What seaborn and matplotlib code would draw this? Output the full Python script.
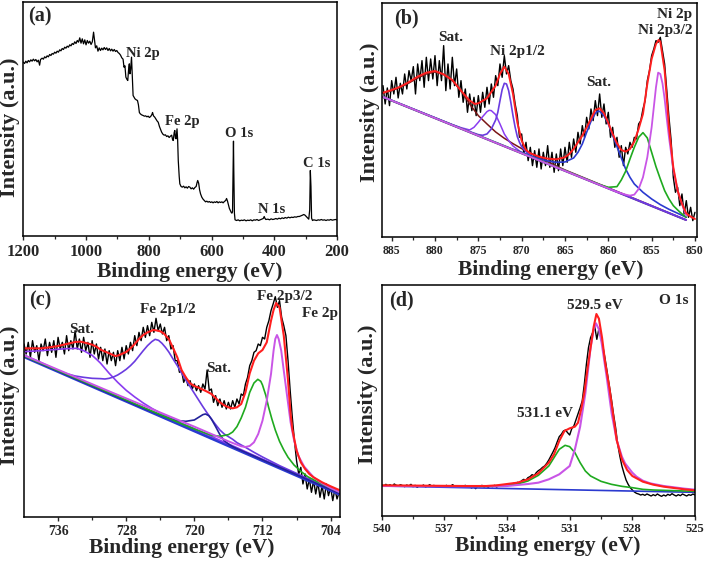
import numpy as np
import matplotlib
matplotlib.use("Agg")
import matplotlib.pyplot as plt
from matplotlib.ticker import FixedLocator
import seaborn as sns

sns.set_style("ticks")
plt.rcParams["font.family"] = ["Liberation Serif", "DejaVu Serif"]
plt.rcParams["font.weight"] = "bold"
plt.rcParams["axes.labelweight"] = "bold"

# ------------------------------------------------------------------ data
# (a) survey spectrum (binding energy eV, intensity a.u.)
a_energy = [1200, 1196, 1192, 1188, 1184, 1180, 1176, 1172, 1168, 1164, 1160, 1156, 1152, 1148, 1145,
            1140, 1136, 1132, 1128, 1124, 1120, 1116, 1112, 1108, 1104, 1100, 1096, 1092, 1088, 1084,
            1080, 1076, 1072, 1068, 1064, 1060, 1056, 1052, 1048, 1044, 1040, 1036, 1032, 1028, 1024,
            1020, 1016, 1012, 1008, 1004, 1000, 996, 992, 988, 984, 980, 976, 973, 970, 966, 962, 958,
            954, 950, 946, 942, 938, 934, 930, 926, 922, 918, 914, 910, 906, 902, 898, 894, 890, 886,
            882, 879, 876, 873, 870, 867, 864, 862, 860, 858, 855, 852, 850, 847, 844, 840, 836, 833,
            830, 827, 823, 818, 814, 810, 806, 802, 798, 794, 790, 788, 785, 781, 777, 773, 770, 766,
            762, 759, 755, 751, 747, 743, 739, 735, 731, 727, 724, 722, 719, 717, 715, 713, 710, 708,
            706, 703, 701, 697, 693, 689, 685, 681, 677, 673, 669, 665, 661, 657, 653, 649, 646, 644,
            641, 638, 635, 631, 627, 623, 619, 615, 611, 607, 603, 599, 595, 591, 587, 583, 579, 575,
            571, 567, 563, 559, 555, 552, 549, 546, 543, 540, 537, 535, 533, 531, 530, 529, 527, 525,
            520, 515, 510, 505, 500, 495, 490, 485, 480, 475, 470, 465, 460, 455, 450, 445, 440, 435,
            432, 430, 427, 420, 415, 410, 405, 400, 395, 390, 385, 380, 375, 370, 365, 360, 355, 350,
            345, 340, 335, 330, 325, 320, 315, 310, 306, 302, 298, 294, 290, 287, 285, 283, 281, 278,
            274, 270, 265, 260, 255, 250, 245, 240, 235, 230, 225, 220, 215, 210, 205, 200]
a_intensity = [523, 519, 526, 521, 528, 524, 530, 526, 532, 527, 531, 524, 529, 514, 531,
               535, 532, 539, 536, 542, 539, 546, 543, 549, 547, 553, 550, 556, 553, 560,
               557, 564, 561, 568, 565, 571, 568, 575, 572, 579, 576, 584, 579, 588, 583,
               596, 580, 593, 578, 590, 575, 588, 580, 586, 576, 584, 613, 590, 566, 572, 556, 566,
               558, 565, 560, 567, 561, 566, 558, 564, 557, 562, 556, 561, 555, 558, 552, 549, 544, 536,
               532, 508, 512, 478, 472, 468, 505, 518, 488, 500, 538, 470, 423, 418, 413, 410, 408, 395,
               372, 368, 365, 363, 361, 362, 359, 361, 357, 360, 366, 372, 362, 358, 352, 346, 343, 330,
               320, 313, 307, 304, 305, 300, 302, 297, 301, 304, 290, 288, 312, 318, 295, 293, 323, 290,
               228, 180, 158, 150, 148, 151, 146, 149, 145, 150, 148, 143, 146, 142, 147, 150, 162, 168,
               160, 140, 128, 118, 112, 108, 104, 106, 103, 105, 102, 104, 101, 104, 102, 105, 101, 104,
               102, 104, 101, 105, 108, 114, 106, 95, 84, 78, 72, 70, 75, 220, 286, 200, 70, 50,
               48, 50, 47, 49, 48, 50, 47, 49, 48, 50, 47, 50, 49, 51, 48, 50, 52, 54,
               60, 55, 51, 52, 50, 53, 51, 52, 54, 52, 55, 53, 56, 54, 57, 55, 58, 56,
               58, 57, 59, 58, 60, 60, 62, 64, 66, 64, 60, 56, 52, 80, 198, 150, 55, 48,
               50, 49, 48, 50, 49, 51, 49, 50, 48, 50, 49, 51, 49, 50, 51, 50]
a_labels = ["Ni 2p", "Fe 2p", "O 1s", "N 1s", "C 1s"]
a_label_x = [819, 694, 512, 407, 264]
a_label_y = [548, 346, 308, 80, 218]

# (b) Ni 2p, raw spectrum sampled every 0.25 eV from 886 to 850
b_raw = [455, 400, 448, 395, 470, 430, 480, 418, 462, 430, 490, 445,
         500, 470, 512, 430, 520, 470, 530, 450, 540, 470, 535, 475,
         545, 455, 530, 470, 575, 440, 520, 445, 540, 455, 505, 420,
         470, 405, 445, 375, 430, 380, 420, 365, 425, 375, 435, 390,
         450, 400, 460, 420, 485, 455, 520, 480, 545, 490, 515, 470,
         445, 400, 365, 300, 310, 250, 285, 230, 270, 215, 260, 210,
         265, 205, 255, 215, 275, 210, 255, 195, 250, 200, 265, 215,
         270, 225, 285, 240, 295, 255, 315, 280, 335, 300, 360, 325,
         385, 350, 410, 365, 430, 360, 400, 340, 375, 300, 330, 270,
         300, 240, 275, 215, 270, 250, 285, 270, 300, 295, 340, 350,
         385, 410, 470, 500, 545, 565, 590, 585, 600, 560, 520, 440,
         360, 290, 180, 135, 150, 95, 130, 70, 110, 60, 90, 50, 75]
b_fit_x = [886, 885, 884, 883, 882, 881, 880, 879, 878, 877, 876, 875.4, 875, 874, 873, 872.5, 872,
           871.5, 871, 870.5, 870, 869.5, 869, 868, 867, 866, 865, 864.5, 864, 863, 862, 861.5, 861,
           860.5, 860, 859.5, 859, 858.5, 858, 857.5, 857, 856.5, 856, 855.5, 855, 854.5, 854.2, 854,
           853.5, 853, 852.5, 852, 851.5, 851, 850.5, 850]
b_fit_y = [434, 442, 452, 466, 482, 494, 499, 489, 472, 440, 410, 400, 402, 417, 455, 490, 512,
           490, 430, 345, 290, 262, 252, 242, 236, 234, 240, 250, 265, 305, 355, 382, 387,
           372, 343, 310, 282, 262, 257, 265, 287, 325, 370, 460, 535, 580, 592, 587,
           500, 330, 210, 140, 100, 72, 62, 55]
b_base_x = [886, 851.1]
b_base_y = [420, 52]
b_sat1_x = [886, 885, 884, 883, 882, 881, 880, 879, 878, 877, 876, 875, 874, 873, 872, 871, 870,
            869, 868, 867, 866, 865, 851]
b_sat1_y = [432, 440, 450, 463, 478, 490, 496, 488, 470, 440, 400, 365, 340, 316, 297, 281, 266,
            253, 240, 227, 214, 202, 52]
b_p12s_x = [886, 878, 877, 876, 875.5, 875, 874.5, 874, 873.75, 873.5, 873, 872.5, 872, 871.5,
            871, 870, 869, 851]
b_p12s_y = [422, 338, 329, 322, 330, 345, 362, 377, 381, 380, 368, 340, 310, 290,
            274, 254, 242, 52]
b_p12_x = [886, 876, 875, 874.5, 874, 873.5, 873, 872.75, 872.5, 872.25, 872, 871.75, 871.5,
           871.25, 871, 870.75, 870.5, 870.25, 870, 869.5, 869, 868, 851]
b_p12_y = [421, 317, 308, 306, 310, 325, 352, 375, 410, 443, 462, 460, 440,
           405, 365, 330, 302, 285, 272, 257, 246, 232, 52]
b_sat2_x = [886, 871, 870, 869, 868, 867, 866, 865, 864, 863.5, 863, 862.5, 862, 861.5, 861.25,
            861, 860.5, 860, 859.5, 859, 858.5, 858, 857.5, 857, 856, 855, 854, 853, 852, 851]
b_sat2_y = [421, 264, 255, 245, 236, 229, 225, 226, 238, 255, 280, 315, 348, 372, 378,
            378, 365, 340, 306, 272, 238, 205, 180, 160, 135, 115, 98, 84, 72, 60]
b_p32s_x = [886, 861, 860, 859, 858.5, 858, 857.5, 857, 856.5, 856, 855.5, 855.2, 855, 854.5,
            854, 853.5, 853, 852.5, 852, 851.5, 851]
b_p32s_y = [421, 158, 150, 152, 172, 198, 235, 270, 300, 314, 298, 272, 255, 212,
            175, 140, 115, 95, 82, 70, 60]
b_p32_x = [886, 859, 858, 857.5, 857, 856.5, 856, 855.5, 855, 854.75, 854.5, 854.25, 854,
           853.75, 853.5, 853.25, 853, 852.5, 852, 851.5, 851]
b_p32_y = [421, 136, 128, 125, 128, 145, 180, 240, 330, 390, 450, 494, 490,
           462, 415, 355, 300, 205, 140, 100, 65]
b_labels = ["(b)", "Sat.", "Ni 2p1/2", "Sat.", "Ni 2p", "Ni 2p3/2"]
b_label_x = [883.3, 878.2, 870.55, 861.1, 852.4, 853.45]
b_label_y = [657, 600, 557, 464, 667, 620]

# (c) Fe 2p, raw spectrum sampled every 0.25 eV from 740 to 703
c_raw = [520, 490, 525, 480, 530, 495, 515, 470, 520, 500, 535, 485,
         525, 495, 530, 480, 540, 505, 525, 490, 545, 500, 530, 505,
         560, 505, 535, 495, 540, 500, 525, 480, 530, 490, 520, 475,
         510, 470, 505, 460, 500, 470, 495, 455, 500, 470, 510, 475,
         515, 490, 525, 500, 545, 515, 555, 530, 570, 540, 575, 545,
         585, 555, 597, 560, 580, 550, 570, 530, 545, 505, 515, 470,
         470, 435, 440, 405, 420, 395, 410, 385, 400, 380, 395, 375,
         400, 385, 442, 380, 385, 345, 365, 335, 355, 330, 350, 325,
         345, 325, 350, 330, 355, 340, 370, 365, 400, 420, 455, 470,
         495, 500, 520, 515, 540, 535, 570, 590, 620, 640, 662, 630,
         650, 600, 575, 545, 470, 380, 300, 230, 170, 130, 150, 100,
         130, 85, 115, 75, 110, 70, 105, 60, 95, 55, 100, 65, 90, 50, 85, 55, 75]
c_fit_x = [740, 739, 738, 737, 736, 735, 734, 733.4, 733, 732, 731.5, 731, 730, 729.3, 729, 728,
           727.5, 727, 726.5, 726, 725.5, 725, 724.8, 724.5, 724, 723.6, 723, 722.5, 722, 721.5,
           721, 720.5, 720, 719.5, 719, 718.5, 718, 717.5, 717, 716.5, 716, 715.5, 715, 714.5,
           714, 713.5, 713, 712.5, 712, 711.5, 711, 710.7, 710.4, 710, 709.5, 709, 708.7, 708.5,
           708, 707.5, 707, 706.5, 706, 705, 704, 703]
c_fit_y = [507, 507, 507, 510, 514, 520, 526, 527, 525, 518, 512, 503, 492, 484, 485, 496,
           507, 520, 535, 547, 555, 560, 562, 561, 558, 552, 535, 508, 480, 442,
           420, 402, 394, 389, 383, 377, 370, 358, 345, 336, 330, 327, 330, 340,
           375, 432, 470, 492, 502, 525, 590, 622, 643, 630, 545, 410, 310, 265,
           200, 165, 145, 130, 120, 105, 93, 82]
c_base_x = [740, 703]
c_base_y = [482, 70]
c_sat1_x = [740, 738, 736.6, 735, 733.8, 733, 732, 731.4, 731, 730, 729, 728, 727, 726, 725, 724,
            723, 722, 721, 720, 719, 718, 717, 716, 715, 714, 710, 706, 703]
c_sat1_y = [497, 500, 503, 506, 507, 500, 486, 472, 462, 432, 405, 381, 361, 343, 327, 313,
            300, 288, 277, 266, 254, 243, 231, 220, 209, 197, 152, 107, 73]
c_p12_x = [740, 738.5, 737, 736, 735, 734, 733, 732, 731, 730.5, 730, 729.5, 729, 728.5, 728,
           727.5, 727, 726.5, 726, 725.5, 725, 724.6, 724.2, 723.8, 723.4, 723, 722.5, 722,
           721.5, 721, 720.5, 720, 719.5, 719, 718.5, 718, 717.5, 717, 716.5, 716, 715.5,
           715, 714, 713, 712, 710, 707, 703]
c_p12_y = [487, 470, 452, 440, 431, 424, 420, 417, 416, 415, 417, 421, 427, 435, 444,
           455, 468, 484, 500, 515, 527, 534, 531, 522, 510, 496, 475, 455,
           433, 412, 392, 372, 352, 332, 313, 295, 278, 262, 250, 242, 234,
           224, 210, 195, 181, 155, 120, 74]
c_sat2_x = [740, 730, 726, 725, 724, 723, 722, 721, 720, 719.5, 719, 718.7, 718.3, 718, 717.5,
            717, 716.5, 716, 715.5, 715, 714, 710, 703]
c_sat2_y = [483, 372, 328, 318, 307, 297, 290, 288, 292, 300, 308, 310, 305, 295, 272,
            248, 230, 220, 212, 206, 195, 150, 72]
c_p32s_x = [740, 730, 725, 722, 720, 718, 717, 716, 715.5, 715, 714.5, 714, 713.5, 713, 712.55,
            712.2, 712, 711.6, 711.3, 710.9, 710.5, 710, 709.5, 709, 708.3, 707.5, 706.7, 705.2,
            704, 703]
c_p32s_y = [484, 374, 319, 286, 265, 246, 243, 248, 256, 272, 298, 330, 375, 403, 414,
            408, 397, 365, 332, 295, 262, 228, 202, 180, 157, 138, 122, 102,
            88, 76]
c_p32_x = [740, 730, 725, 720, 718, 716, 715, 714.5, 714, 713.5, 713, 712.5, 712, 711.5, 711,
           710.7, 710.5, 710.3, 710.1, 709.8, 709.5, 709.1, 708.7, 708.3, 707.8, 707.1, 706,
           705, 704, 703]
c_p32_y = [486, 378, 325, 272, 250, 228, 218, 213, 211, 214, 225, 250, 290, 350, 430,
           500, 535, 547, 535, 500, 440, 362, 285, 232, 185, 152, 120,
           102, 88, 76]
c_labels = ["(c)", "Sat.", "Fe 2p1/2", "Sat.", "Fe 2p3/2", "Fe 2p"]
c_label_x = [738.1, 733.2, 723.1, 717.1, 709.4, 705.3]
c_label_y = [650, 562, 622, 447, 662, 610]

# (d) O 1s, raw spectrum sampled every 0.1 eV from 540 to 525
d_raw = [93, 90, 95, 91, 94, 89, 96, 92, 90, 94,
         91, 88, 93, 90, 95, 88, 92, 86, 91, 89,
         93, 87, 90, 94, 89, 92, 88, 91, 86, 90,
         88, 92, 87, 90, 94, 88, 91, 86, 90, 88,
         92, 87, 89, 84, 88, 82, 90, 88, 92, 87,
         90, 86, 91, 88, 92, 87, 90, 94, 89, 93,
         90, 96, 92, 98, 95, 101, 98, 106, 110, 107,
         115, 118, 124, 121, 130, 136, 140, 146, 150, 158,
         168, 180, 192, 205, 222, 238, 245, 255, 258, 250,
         243, 262, 270, 288, 305, 325, 345, 395, 455, 505,
         535, 550, 568, 530, 562, 535, 505, 470, 430, 390,
         350, 305, 265, 215, 180, 150, 128, 108, 95, 85,
         78, 72, 68, 66, 63, 65, 62, 66, 63, 60,
         64, 61, 66, 62, 59, 63, 60, 65, 62, 67,
         63, 60, 64, 61, 66, 63, 60, 64, 62, 66, 63]
d_fit_x = [540, 538, 536, 535, 534.5, 534, 533.5, 533, 532.5, 532, 531.75, 531.5, 531.25, 531,
           530.75, 530.6, 530.45, 530.3, 530.15, 530, 529.85, 529.72, 529.6, 529.45, 529.3,
           529.1, 528.9, 528.75, 528.5, 528.25, 528, 527.5, 527, 526.5, 526, 525.5, 525]
d_fit_y = [92, 91, 90, 90, 92, 96, 100, 110, 128, 160, 185, 225, 255, 263,
           268, 280, 320, 370, 440, 505, 568, 606, 592, 535, 460,
           385, 295, 228, 170, 138, 120, 103, 94, 88, 84, 80, 77]
d_base_x = [540, 525]
d_base_y = [90, 71]
d_low_x = [540, 537, 535, 534, 533.5, 533, 532.5, 532, 531.75, 531.5, 531.22, 531, 530.75,
           530.5, 530.25, 530, 529.5, 529, 528.5, 528, 527.5, 527, 526, 525]
d_low_y = [91, 90, 89, 93, 96, 105, 122, 150, 175, 200, 212, 208, 190,
           160, 135, 120, 104, 95, 89, 85, 80, 78, 76, 74]
d_main_x = [540, 536, 534, 533, 532.5, 532, 531.5, 531, 530.75, 530.5, 530.25, 530.1, 530,
            529.85, 529.74, 529.6, 529.47, 529.23, 528.99, 528.75, 528.5, 528.35, 528, 527.8,
            527.5, 527.15, 526.5, 526, 525.5, 525]
d_main_y = [90, 89, 90, 96, 100, 110, 125, 150, 200, 268, 368, 450, 505,
            560, 578, 560, 520, 418, 308, 228, 178, 158, 130, 118,
            106, 98, 90, 86, 82, 79]
d_labels = ["(d)", "529.5 eV", "O 1s", "531.1 eV"]
d_label_x = [539.04, 529.8, 526.04, 532.2]
d_label_y = [648, 633, 648, 308]

# ------------------------------------------------------------------ style
RED = "#ff1f1f"
MAG = "#c955e6"
GRN = "#1faa1f"
BLU = "#2b3ad0"
VIO = "#8a3cf0"
BVI = "#6a3be0"
BRN = "#7a1616"

fig = plt.figure(figsize=(7.09, 5.63), dpi=100)
ax_a = fig.add_axes([0.03286, 0.57993, 0.44245, 0.41563])
ax_b = fig.add_axes([0.53836, 0.57851, 0.44429, 0.41563])
ax_c = fig.add_axes([0.03385, 0.08117, 0.44570, 0.41350])
ax_d = fig.add_axes([0.53836, 0.08348, 0.44189, 0.41119])


def line(ax, x, y, color, lw):
    sns.lineplot(x=np.asarray(x, float), y=np.asarray(y, float), ax=ax, color=color,
                 linewidth=lw, estimator=None, sort=False, legend=False)


def style(ax, xlim, ylim, majors, minors, tick_fs, xlab_pos, ylab_pos):
    ax.set_xlim(*xlim)
    ax.set_ylim(*ylim)
    ax.xaxis.set_major_locator(FixedLocator(majors))
    ax.xaxis.set_minor_locator(FixedLocator(minors))
    ax.set_yticks([])
    ax.tick_params(axis="x", which="major", direction="out", length=3.2, width=1.0,
                   pad=2, labelsize=tick_fs, bottom=True, top=False)
    ax.tick_params(axis="x", which="minor", direction="out", length=2.0, width=0.9,
                   bottom=True, top=False)
    for lab in ax.get_xticklabels():
        lab.set_fontweight("bold")
    for sp in ax.spines.values():
        sp.set_linewidth(1.1)
        sp.set_color("black")
    ax.set_xlabel("Binding energy (eV)", fontsize=15.5, fontweight="bold")
    ax.set_ylabel("Intensity (a.u.)", fontsize=16, fontweight="bold")
    ax.xaxis.label.set_verticalalignment("baseline")
    ax.xaxis.set_label_coords(*xlab_pos)
    ax.yaxis.set_label_coords(*ylab_pos)


def annotate(ax, labels, xs, ys, fs=11):
    for t, x, y in zip(labels, xs, ys):
        size = 14.5 if t.startswith("(") else fs
        ax.text(x, y, t, ha="center", va="center", fontsize=size, fontweight="bold")


# (a)
line(ax_a, a_energy, a_intensity, "black", 0.9)
annotate(ax_a, a_labels, a_label_x, a_label_y, fs=10.5)
ax_a.text(1146, 661, "(a)", ha="center", va="center", fontsize=14.5, fontweight="bold")
style(ax_a, (1200, 200), (0, 702), [1200, 1000, 800, 600, 400, 200], [1100, 900, 700, 500, 300],
      12, (0.531, -0.171), (-0.012, 0.469))

# (b)
b_x = np.linspace(886, 850, len(b_raw))
line(ax_b, b_x, b_raw, "black", 1.0)
line(ax_b, b_base_x, b_base_y, "#4a2a86", 1.2)
line(ax_b, b_sat1_x, b_sat1_y, BRN, 1.1)
line(ax_b, b_p12s_x, b_p12s_y, VIO, 1.1)
line(ax_b, b_p12_x, b_p12_y, BVI, 1.2)
line(ax_b, b_sat2_x, b_sat2_y, BLU, 1.2)
line(ax_b, b_p32s_x, b_p32s_y, GRN, 1.2)
line(ax_b, b_p32_x, b_p32_y, MAG, 1.3)
line(ax_b, b_fit_x, b_fit_y, RED, 1.4)
annotate(ax_b, b_labels, b_label_x, b_label_y)
style(ax_b, (886.15, 849.8), (0, 702), [885, 880, 875, 870, 865, 860, 855, 850],
      [882.5, 877.5, 872.5, 867.5, 862.5, 857.5, 852.5], 8.5, (0.537, -0.163), (-0.006, 0.533))

# (c)
c_x = np.linspace(740, 703, len(c_raw))
line(ax_c, c_x, c_raw, "black", 1.0)
line(ax_c, c_base_x, c_base_y, BLU, 2.2)
line(ax_c, c_sat1_x, c_sat1_y, VIO, 1.2)
line(ax_c, c_p12_x, c_p12_y, BVI, 1.2)
line(ax_c, c_sat2_x, c_sat2_y, "#22229a", 1.2)
line(ax_c, c_p32s_x, c_p32s_y, GRN, 1.2)
line(ax_c, c_p32_x, c_p32_y, MAG, 1.4)
line(ax_c, c_fit_x, c_fit_y, RED, 1.5)
annotate(ax_c, c_labels, c_label_x, c_label_y)
style(ax_c, (740, 702.9), (0, 698.5), [736, 728, 720, 712, 704], [732, 724, 716, 708],
      10, (0.5, -0.153), (-0.013, 0.525))

# (d)
d_x = np.linspace(540, 525, len(d_raw))
line(ax_d, d_x, d_raw, "black", 1.0)
line(ax_d, d_base_x, d_base_y, BLU, 1.2)
line(ax_d, d_low_x, d_low_y, GRN, 1.2)
line(ax_d, d_main_x, d_main_y, MAG, 1.5)
line(ax_d, d_fit_x, d_fit_y, RED, 1.5)
annotate(ax_d, d_labels, d_label_x, d_label_y)
style(ax_d, (540, 525), (0, 694.5), [540, 537, 534, 531, 528, 525],
      [538.5, 535.5, 532.5, 529.5, 526.5], 9, (0.531, -0.153), (-0.012, 0.527))

fig.savefig("out.png", dpi=100)
